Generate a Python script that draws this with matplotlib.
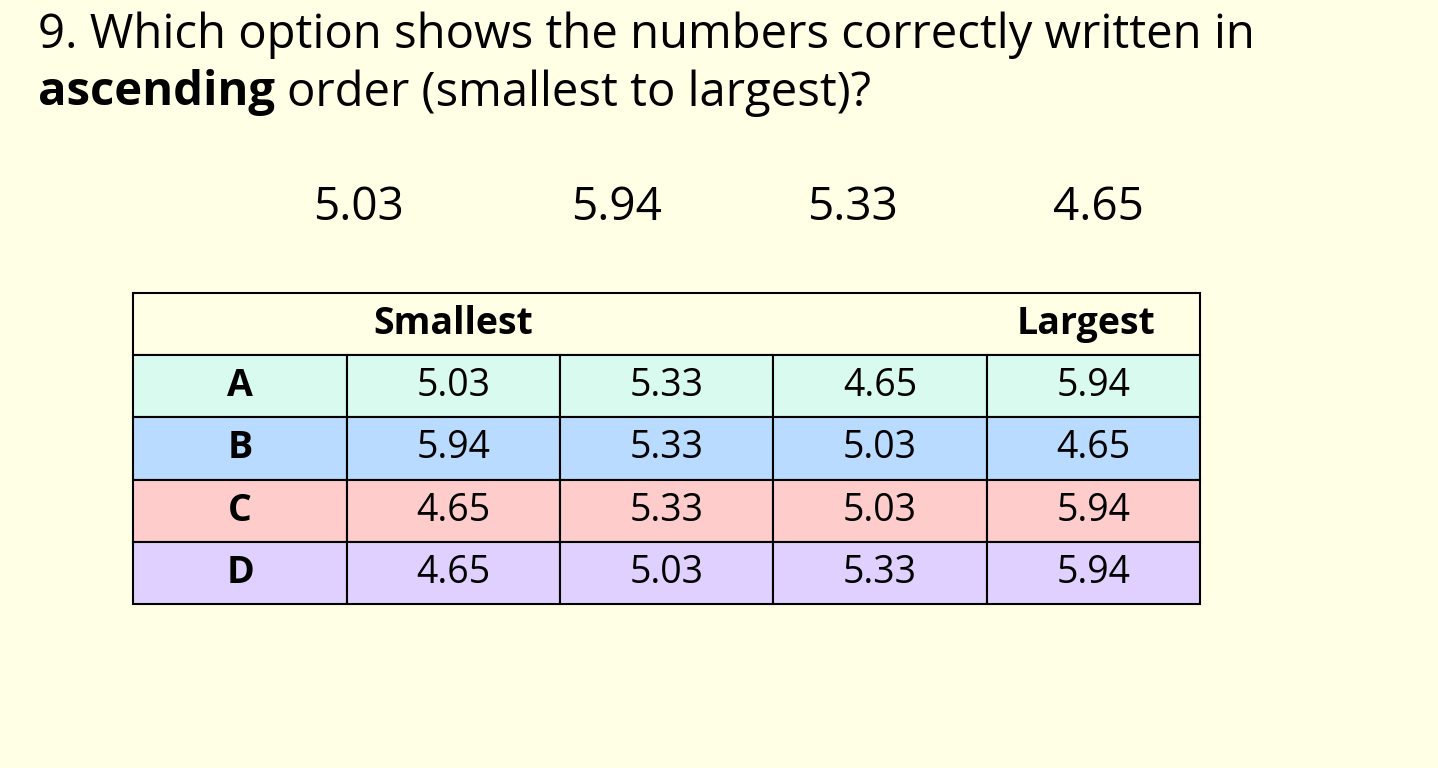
import matplotlib
matplotlib.use('Agg')
import matplotlib.pyplot as plt
from matplotlib.patches import Rectangle

plt.rcParams['font.family'] = ['Open Sans', 'DejaVu Sans']

numbers = ['5.03', '5.94', '5.33', '4.65']
options = ['A', 'B', 'C', 'D']
rows = [
    ['5.03', '5.33', '4.65', '5.94'],
    ['5.94', '5.33', '5.03', '4.65'],
    ['4.65', '5.33', '5.03', '5.94'],
    ['4.65', '5.03', '5.33', '5.94'],
]
row_colors = ['#d9fbef', '#b8dbff', '#ffcccc', '#e0d0ff']
bg = '#ffffe6'

fig = plt.figure(figsize=(14.38, 7.68), dpi=100, facecolor=bg)
ax = fig.add_axes([0, 0, 1, 1])
ax.set_xlim(0, 1438)
ax.set_ylim(768, 0)
ax.axis('off')

ax.text(38, 35, '9. Which option shows the numbers correctly written in',
        fontsize=34, va='center', ha='left')
ax.text(38, 93, r'$\bf{ascending}$', fontsize=34, va='center', ha='left', alpha=0)
t = ax.text(38, 93, 'ascending', fontsize=34, va='center', ha='left', fontweight='bold')
fig.canvas.draw()
bb = t.get_window_extent().transformed(ax.transData.inverted())
ax.text(bb.x1 + 12, 93, 'order (smallest to largest)?', fontsize=34, va='center', ha='left')

for x, n in zip([358, 616, 853, 1098], numbers):
    ax.text(x, 208, n, fontsize=33, ha='center', va='center')

cols = [133, 347, 560, 773, 987, 1200]
top, head_bot, rh = 293, 355, 62.25
ax.add_patch(Rectangle((cols[0], top), cols[-1] - cols[0], head_bot - top,
                       facecolor=bg, edgecolor='black', lw=1.5))
ax.text(453, 324, 'Smallest', fontsize=27, fontweight='bold', ha='center', va='center')
ax.text(1086, 324, 'Largest', fontsize=27, fontweight='bold', ha='center', va='center')

for i, (opt, vals, c) in enumerate(zip(options, rows, row_colors)):
    y0 = head_bot + i * rh
    cells = [opt] + vals
    for j, txt in enumerate(cells):
        ax.add_patch(Rectangle((cols[j], y0), cols[j + 1] - cols[j], rh,
                               facecolor=c, edgecolor='black', lw=1.5))
        ax.text((cols[j] + cols[j + 1]) / 2, y0 + rh / 2, txt, fontsize=27,
                ha='center', va='center', fontweight='bold' if j == 0 else 'normal')

fig.savefig('out.png', dpi=100, facecolor=bg)
